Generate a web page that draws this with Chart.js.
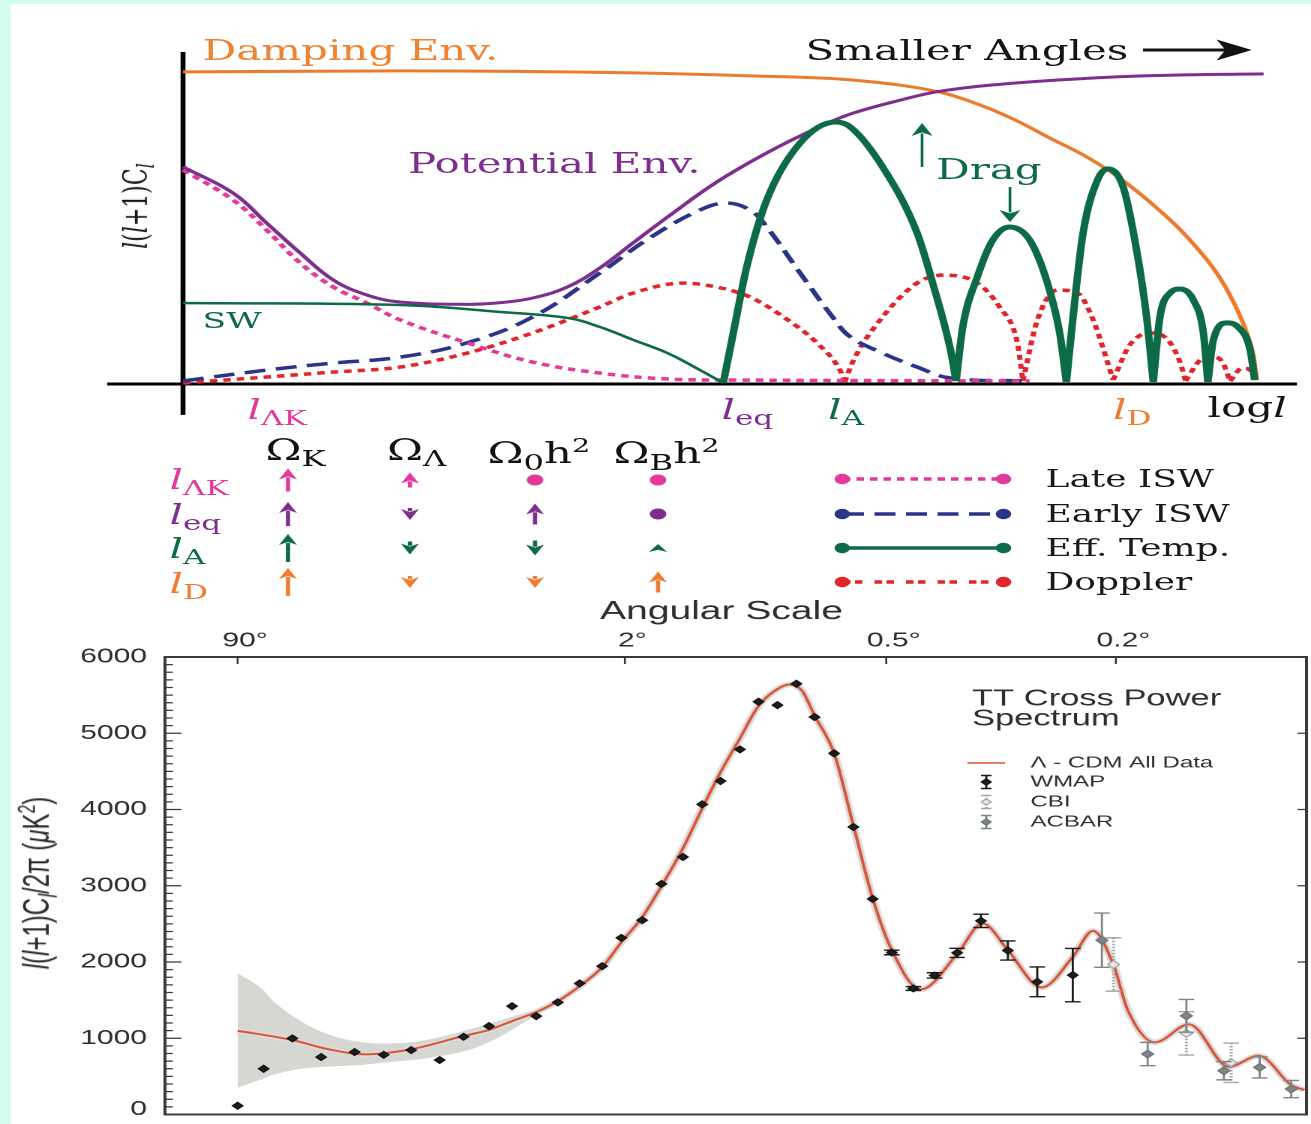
<!DOCTYPE html>
<html>
<head>
<meta charset="utf-8">
<title>CMB anisotropy: components and TT power spectrum</title>
<script src="https://cdn.jsdelivr.net/npm/chart.js@4.4.1/dist/chart.umd.min.js"></script>
<style>
  html, body { margin: 0; padding: 0; background: #d3fcf1; overflow: hidden; }
  body { width: 1311px; height: 1124px; position: relative; }
  /* the whole figure is laid out narrow and stretched sideways */
  #fig { position: absolute; left: 0; top: 0; width: 874px; height: 1124px; transform: scaleX(1.5); transform-origin: 0 0; }
  #paper { position: absolute; left: 6.67px; top: 4px; right: 0; bottom: 0; background: #fff; }
  canvas { position: absolute; left: 0; }
  .t { position: absolute; white-space: nowrap; line-height: 1; font-family: "DejaVu Serif", serif; }
  .s { font-family: "Liberation Sans", Arial, sans-serif; }
  .sb { font-size: .74em; vertical-align: -.3em; }
  .sp { font-size: .66em; vertical-align: .6em; }
  .rot { transform: translate(-50%, -50%) rotate(-90deg); }
</style>
</head>
<body>
<div id="fig">
  <div id="paper"></div>
  <canvas id="schema" width="874" height="600" style="top:0"></canvas>
  <canvas id="spectrum" width="876" height="534" style="top:590px"></canvas>

  <!-- schematic labels -->
  <div class="t" style="left:135px;top:37px;font-size:28px;color:#ee8433">Damping Env.</div>
  <div class="t" style="left:537px;top:37px;font-size:28px;color:#141414">Smaller Angles</div>
  <div class="t" style="left:272px;top:150px;font-size:28px;color:#7e2f8e">Potential Env.</div>
  <div class="t" style="left:624px;top:156px;font-size:28px;color:#0c6b46">Drag</div>
  <div class="t" style="left:135px;top:309px;font-size:23px;color:#0c6b46">SW</div>
  <div class="t" style="left:165px;top:396px;font-size:28px;color:#e2399a"><i>l</i><span class="sb">ΛK</span></div>
  <div class="t" style="left:481px;top:396px;font-size:28px;color:#7e2f8e"><i>l</i><span class="sb">eq</span></div>
  <div class="t" style="left:552px;top:396px;font-size:28px;color:#0c6b46"><i>l</i><span class="sb">A</span></div>
  <div class="t" style="left:742px;top:396px;font-size:28px;color:#ee7d2f"><i>l</i><span class="sb">D</span></div>
  <div class="t" style="left:805px;top:394px;font-size:28px;color:#141414">log<i>l</i></div>
  <div class="t rot" style="left:93px;top:206px;font-size:22px;color:#141414"><i>l</i>(<i>l</i>+1)C<span class="sb"><i>l</i></span></div>

  <!-- parameter table -->
  <div class="t" style="left:177px;top:436px;font-size:29px;color:#111">Ω<span class="sb">K</span></div>
  <div class="t" style="left:258px;top:436px;font-size:29px;color:#111">Ω<span class="sb">Λ</span></div>
  <div class="t" style="left:325px;top:436px;font-size:29px;color:#111">Ω<span class="sb">0</span>h<span class="sp">2</span></div>
  <div class="t" style="left:409px;top:436px;font-size:29px;color:#111">Ω<span class="sb">B</span>h<span class="sp">2</span></div>
  <div class="t" style="left:113px;top:466px;font-size:28px;color:#e2399a"><i>l</i><span class="sb">ΛK</span></div>
  <div class="t" style="left:113px;top:501px;font-size:28px;color:#7e2f8e"><i>l</i><span class="sb">eq</span></div>
  <div class="t" style="left:113px;top:535px;font-size:28px;color:#0c6b46"><i>l</i><span class="sb">A</span></div>
  <div class="t" style="left:113px;top:570px;font-size:28px;color:#ee7d2f"><i>l</i><span class="sb">D</span></div>

  <!-- component legend -->
  <div class="t" style="left:697px;top:467px;font-size:24px;color:#1a1a1a">Late ISW</div>
  <div class="t" style="left:697px;top:502px;font-size:24px;color:#1a1a1a">Early ISW</div>
  <div class="t" style="left:697px;top:536px;font-size:24px;color:#1a1a1a">Eff. Temp.</div>
  <div class="t" style="left:697px;top:570px;font-size:24px;color:#1a1a1a">Doppler</div>

  <!-- spectrum y title -->
  <div class="t s rot" style="left:26px;top:883px;font-size:24px;color:#2a2a2a"><i>l</i>(<i>l</i>+1)C<span class="sb"><i>l</i></span>/2π (<i>μ</i>K<span class="sp">2</span>)</div>
</div>

<script>
// ---------- schematic curves (x: log l, arbitrary units; y: amplitude) ----------
const dampX = [0, 19.5, 40.4, 50.9, 59.9, 68.2, 71.8, 74.9, 77.8, 80.8, 83.8, 86.8, 89.8, 92.8, 94.3, 95.5, 96.1, 96.4];
const dampY = [94.0, 94.3, 93.7, 92.8, 91.6, 87.7, 83.7, 79.2, 74.1, 69.0, 62.7, 54.8, 45.5, 33.4, 24.7, 15.4, 8.4, 1.2];

const potX = [0, 4.5, 7.5, 10.5, 13.5, 16.5, 19.5, 25.5, 28.5, 31.4, 34.5, 37.4, 40.4, 43.5, 47.9, 52.4, 56.9, 59.9, 64.4, 68.2, 74.9, 83.8, 89.8, 97.0];
const potY = [65.4, 57.5, 48.5, 39.5, 31.3, 26.8, 24.7, 24.0, 24.5, 25.9, 29.2, 34.9, 42.5, 50.3, 60.8, 69.6, 77.1, 81.3, 85.5, 88.3, 90.7, 92.5, 93.1, 93.4];

const lateX = [0, 4.5, 7.5, 10.5, 13.5, 16.5, 19.5, 25.5, 31.4, 37.4, 43.5, 49.4, 76.0];
const lateY = [64.5, 55.4, 46.4, 36.5, 29.2, 24.4, 19.3, 12.4, 6.6, 3.3, 1.5, 1.2, 0.9];

const earlyX = [0, 7.5, 13.5, 19.5, 25.5, 31.4, 37.4, 41.9, 46.4, 48.8, 50.9, 52.4, 55.4, 58.4, 59.9, 62.8, 65.9, 68.9, 76.0];
const earlyY = [0.9, 4.2, 6.3, 8.1, 12.4, 20.2, 33.4, 44.0, 52.4, 54.5, 52.4, 47.3, 33.4, 19.8, 14.2, 9.3, 5.1, 1.8, 0.9];

// null in Y starts a new arch
const dopX = [0, 7.5, 13.5, 19.5, 25.5, 31.4, 37.4, 40.4, 44.9, 47.9, 50.9, 53.9, 56.9, 59.0, 59.4,
              59.4, 59.4, 60.2, 62.8, 65.9, 68.2, 71.3, 73.3, 74.9, 75.4,
              75.4, 75.4, 76.7, 78.5, 80.3, 81.7, 83.5,
              83.5, 83.5, 85.0, 86.8, 88.4, 89.5, 90.0,
              90.0, 90.0, 91.3, 92.2, 93.3, 94.0,
              94.0, 94.0, 95.1, 95.8, 96.4];
const dopY = [0.3, 2.1, 3.6, 5.1, 9.3, 15.4, 23.2, 27.4, 30.4, 29.2, 26.2, 20.2, 12.4, 4.0, 0.6,
              null, 0.6, 7.2, 20.2, 30.4, 32.8, 30.4, 23.2, 12.4, 0.9,
              null, 0.9, 19.3, 28.3, 27.4, 19.3, 1.2,
              null, 1.2, 11.8, 15.4, 13.3, 6.6, 0.9,
              null, 0.9, 7.2, 8.4, 6.6, 0.9,
              null, 0.9, 4.8, 4.2, 0.9];

const swX = [0, 19.5, 28.5, 34.5, 37.4, 40.4, 43.5, 46.4, 48.5];
const swY = [24.4, 23.8, 21.7, 19.9, 17.2, 13.3, 9.3, 4.2, 0.3];

const effTempX = [48.5, 49.4, 50.6, 52.4, 55.4, 58.6, 59.9, 62.8, 65.9, 67.3, 68.9, 69.4,
                  69.4, 69.4, 70.0, 71.3, 72.7, 74.2, 76.0, 77.6, 78.7, 79.3,
                  79.3, 79.3, 79.9, 80.8, 82.1, 83.0, 84.4, 85.6, 86.5, 87.1,
                  87.1, 87.1, 87.7, 88.6, 89.5, 90.7, 91.6, 92.0,
                  92.0, 92.0, 92.5, 93.7, 94.7, 95.8, 96.2];
const effTempY = [0.3, 15.4, 35.2, 55.4, 72.6, 78.9, 77.4, 65.4, 45.5, 30.4, 10.2, 0.9,
                  null, 0.9, 17.2, 32.2, 43.4, 47.3, 43.4, 30.4, 15.4, 0.6,
                  null, 0.6, 20.2, 45.5, 61.5, 64.8, 59.3, 40.4, 20.2, 0.6,
                  null, 0.6, 20.2, 27.4, 28.6, 25.3, 15.4, 0.6,
                  null, 0.6, 13.3, 18.4, 17.2, 10.2, 1.2];

// parameter dependence: + raises the scale, - lowers it, 0 no effect
const omegaK      = [2.3, 2.4, 2.8, 2.8];
const omegaLambda = [1.5, -1.2, -1.3, -1.2];
const omegaMatter = [0, 2.1, -1.5, -1.2];
const omegaBaryon = [0, 0, 0.8, 2.1];

// ---------- TT spectrum (multipole l, power in uK^2) ----------
const modelL = [2, 4.5, 7.16, 10.82, 17.1, 27.5, 34.1, 40.9, 49.1, 57.4, 66.8, 77.7, 88.0, 100.3, 112.7, 128.0, 142.9,
                158.3, 175.9, 194.1, 214.0, 227.7, 242.0, 257.5, 283.0, 309.8, 338.6, 369.1,
                418.9, 488.8, 542.6, 600.2, 684.4, 769.4, 828.6, 892.5, 938.7, 1032.2, 1158.9, 1321.1, 1453.4, 1608.8, 1675.3];
const modelPower = [1098, 976, 854, 789, 854, 1028, 1110, 1225, 1343, 1487, 1683, 1932, 2260, 2588, 2994, 3492, 4016,
                    4490, 4935, 5358, 5580, 5640, 5560, 5234, 4736, 3793, 2836, 2155,
                    1640, 2103, 2505, 2155, 1666, 2067, 2408, 1959, 1369, 946, 1182, 626, 770, 386, 321];

const bandL     = [2, 2.82, 3.59, 4.93, 6.88, 10.07, 14.25, 19.63, 31.22, 49.1];
const bandUpper = [1851, 1675, 1457, 1238, 1064, 954, 933, 976, 1150, 1380];
const bandLower = [351, 452, 530, 595, 626, 648, 692, 736, 888, 1300];

const wmapL = [2, 3, 4.5, 6.5, 9.6, 13.1, 17.2, 22.4, 27.6, 34.1, 40.9, 49.1, 57.4, 66.8, 77.7, 88.0, 100.3, 112.7, 128.0,
               142.9, 158.3, 175.9, 194.1, 214.0, 235.5, 257.5, 283.0, 309.8, 338.6, 369.1, 405.9, 444.6, 488.8, 539.1,
               600.2, 673.0, 769.4];
const wmapPower = [115, 600, 998, 753, 819, 783, 845, 714, 1019, 1159, 1421, 1290, 1470, 1719, 1945, 2316, 2548, 3024, 3377,
                   4068, 4373, 4788, 5413, 5369, 5649, 5212, 4736, 3770, 2827, 2125, 1653, 1824, 2120, 2539,
                   2151, 1740, 1828];
const wmapError = [0, 0, 0, 0, 0, 0, 0, 0, 0, 0, 0, 0, 0, 0, 0, 0, 0, 0, 0,
                   0, 0, 0, 0, 0, 0, 0, 0, 0, 0, 30, 25, 35, 60, 88,
                   125, 195, 350];

const cbiL = [892.5, 1148.5, 1330.9];
const cbiPower = [1968, 1064, 679];
const cbiError = [350, 284, 258];

const acbarL = [855.9, 1006.3, 1148.5, 1299.9, 1458.0, 1608.8];
const acbarPower = [2286, 793, 1294, 574, 618, 334];
const acbarError = [356, 153, 215, 120, 138, 113];

const powerTicks = [0, 1000, 2000, 3000, 4000, 5000, 6000];
const angleTickL = [2, 90, 360, 900];
const angleTickLabels = ['90°', '2°', '0.5°', '0.2°'];

const SANS = '"Liberation Sans", Arial, sans-serif';

function pts(xs, ys) {
  return xs.map((x, i) => ({ x: x, y: ys[i] }));
}

// multipole axis stretched like l^(1/4)
const P = 0.25;
class PowerScale extends Chart.LinearScale {
  configure() {
    super.configure();
    this._powStart = Math.pow(this.min, P);
    this._powRange = Math.pow(this.max, P) - this._powStart;
  }
  getPixelForValue(value) {
    if (value === null || value === undefined || isNaN(value)) return NaN;
    return this.getPixelForDecimal((Math.pow(value, P) - this._powStart) / this._powRange);
  }
  getValueForPixel(pixel) {
    return Math.pow(this.getDecimalForPixel(pixel) * this._powRange + this._powStart, 1 / P);
  }
}
PowerScale.id = 'power';
PowerScale.defaults = Chart.LinearScale.defaults;
Chart.register(PowerScale);

function vArrow(ctx, x, tail, tip, color, lw, headLen, headHalf) {
  const dir = tip < tail ? -1 : 1;
  ctx.save();
  ctx.strokeStyle = color;
  ctx.fillStyle = color;
  ctx.lineWidth = lw;
  if (Math.abs(tail - tip) > headLen) {
    ctx.beginPath();
    ctx.moveTo(x, tail);
    ctx.lineTo(x, tip - dir * headLen * 0.8);
    ctx.stroke();
  }
  ctx.beginPath();
  ctx.moveTo(x, tip);
  ctx.lineTo(x - headHalf, tip - dir * headLen);
  ctx.lineTo(x, tip - dir * headLen * 0.72);
  ctx.lineTo(x + headHalf, tip - dir * headLen);
  ctx.closePath();
  ctx.fill();
  ctx.restore();
}

const rowColors = ['#e2399a', '#7e2f8e', '#0c6b46', '#ee7d2f'];
const rowY = [480, 514, 548, 582];
const tableCols = [omegaK, omegaLambda, omegaMatter, omegaBaryon];
const colX = [192, 273.3, 356.7, 438.7];

const legendRows = [
  { color: '#e2399a', dash: [5, 4], width: 3.5, y: 479 },
  { color: '#2b3587', dash: [14, 7], width: 3.5, y: 514 },
  { color: '#0c6b46', dash: [], width: 3.5, y: 548 },
  { color: '#e0262b', dash: [5, 3, 5, 8], width: 3.5, y: 582 }
];

const schemaDecor = {
  id: 'schemaDecor',
  beforeDatasetsDraw(chart) {
    const { ctx, scales: { x, y } } = chart;
    ctx.save();
    ctx.strokeStyle = '#000';
    ctx.lineWidth = 3.3;
    ctx.beginPath();
    ctx.moveTo(x.getPixelForValue(0), y.getPixelForValue(100));
    ctx.lineTo(x.getPixelForValue(0), y.getPixelForValue(-9.3));
    ctx.stroke();
    ctx.lineWidth = 3;
    ctx.beginPath();
    ctx.moveTo(x.getPixelForValue(-6.8), y.getPixelForValue(0));
    ctx.lineTo(x.getPixelForValue(100), y.getPixelForValue(0));
    ctx.stroke();
    ctx.restore();
  },
  afterDatasetsDraw(chart) {
    const ctx = chart.ctx;
    ctx.save();
    // "Smaller Angles" arrow
    ctx.strokeStyle = '#111';
    ctx.fillStyle = '#111';
    ctx.lineWidth = 3;
    ctx.beginPath();
    ctx.moveTo(762, 50);
    ctx.lineTo(820, 50);
    ctx.stroke();
    ctx.beginPath();
    ctx.moveTo(834.5, 50);
    ctx.lineTo(811, 39.5);
    ctx.lineTo(817, 50);
    ctx.lineTo(811, 60.5);
    ctx.closePath();
    ctx.fill();
    ctx.restore();

    // drag arrows
    vArrow(ctx, 614.7, 167, 123, '#0c6b46', 1.8, 13, 7);
    vArrow(ctx, 673.3, 187, 222, '#0c6b46', 1.8, 12, 7);

    // parameter table glyphs
    tableCols.forEach((col, c) => {
      col.forEach((v, r) => {
        const cx = colX[c], cy = rowY[r], color = rowColors[r];
        if (v === 0) {
          ctx.save();
          ctx.fillStyle = color;
          ctx.beginPath();
          ctx.arc(cx, cy, 5.5, 0, Math.PI * 2);
          ctx.fill();
          ctx.restore();
        } else {
          const len = Math.abs(v) * 10;
          const tail = v > 0 ? cy + len / 2 : cy - len / 2;
          const tip = v > 0 ? cy - len / 2 : cy + len / 2;
          vArrow(ctx, cx, tail, tip, color, 2.8, Math.min(11, len), 6);
        }
      });
    });

    // component legend samples
    legendRows.forEach(row => {
      ctx.save();
      ctx.strokeStyle = row.color;
      ctx.fillStyle = row.color;
      ctx.lineWidth = row.width;
      ctx.setLineDash(row.dash);
      ctx.beginPath();
      ctx.moveTo(562, row.y);
      ctx.lineTo(669, row.y);
      ctx.stroke();
      ctx.setLineDash([]);
      [561.5, 669].forEach(px => {
        ctx.beginPath();
        ctx.arc(px, row.y, 5.2, 0, Math.PI * 2);
        ctx.fill();
      });
      ctx.restore();
    });
  }
};

function curve(label, xs, ys, color, width, dash, order, smooth) {
  const ds = {
    label: label,
    data: pts(xs, ys),
    borderColor: color,
    borderWidth: width,
    borderDash: dash,
    borderCapStyle: 'butt',
    fill: false,
    pointRadius: 0,
    spanGaps: false,
    order: order
  };
  if (smooth) {
    ds.tension = 0.4;
  } else {
    ds.cubicInterpolationMode = 'monotone';
  }
  return ds;
}

new Chart(document.getElementById('schema'), {
  type: 'line',
  data: {
    datasets: [
      curve('Eff. Temp.', effTempX, effTempY, '#0c6b46', 5, [], 1, false),
      curve('SW', swX, swY, '#0c6b46', 2.5, [], 1, true),
      curve('Potential Env.', potX, potY, '#7e2f8e', 3, [], 2, true),
      curve('Damping Env.', dampX, dampY, '#ec7b2d', 3, [], 3, false),
      curve('Late ISW', lateX, lateY, '#e23b98', 3.5, [5, 4], 4, true),
      curve('Early ISW', earlyX, earlyY, '#2b3587', 3.5, [14, 7], 5, true),
      curve('Doppler', dopX, dopY, '#e0262b', 3.5, [5, 4], 6, false)
    ]
  },
  options: {
    responsive: false,
    animation: false,
    events: [],
    devicePixelRatio: 2,
    layout: { padding: 0 },
    plugins: { legend: { display: false }, tooltip: { enabled: false } },
    scales: {
      x: { type: 'linear', display: false, min: -16.43, max: 101.26 },
      y: { type: 'linear', display: false, min: -65.06, max: 115.66 }
    }
  },
  plugins: [schemaDecor]
});

// ---------- spectrum ----------
function drawErrorBars(ctx, xs, ys, px, v, e, color, dash, cap) {
  const x = xs.getPixelForValue(px);
  const top = ys.getPixelForValue(v + e), bot = ys.getPixelForValue(v - e);
  ctx.save();
  ctx.strokeStyle = color;
  ctx.lineWidth = dash.length ? 2 : 1.4;
  ctx.setLineDash(dash);
  ctx.beginPath();
  ctx.moveTo(x, top);
  ctx.lineTo(x, bot);
  ctx.stroke();
  ctx.setLineDash([]);
  ctx.lineWidth = 1.4;
  ctx.beginPath();
  ctx.moveTo(x - cap, top); ctx.lineTo(x + cap, top);
  ctx.moveTo(x - cap, bot); ctx.lineTo(x + cap, bot);
  ctx.stroke();
  ctx.restore();
}

function diamond(ctx, x, y, r, fill, stroke) {
  ctx.save();
  ctx.beginPath();
  ctx.moveTo(x - r, y); ctx.lineTo(x, y - r); ctx.lineTo(x + r, y); ctx.lineTo(x, y + r);
  ctx.closePath();
  ctx.fillStyle = fill;
  ctx.fill();
  ctx.strokeStyle = stroke;
  ctx.lineWidth = 1;
  ctx.stroke();
  ctx.restore();
}

const spectrumDecor = {
  id: 'spectrumDecor',
  beforeDatasetDraw(chart, args) {
    const ds = chart.data.datasets[args.index];
    if (!ds.errors) return;
    const { ctx, scales: { x, y } } = chart;
    ds.data.forEach((p, i) => {
      if (ds.errors[i]) drawErrorBars(ctx, x, y, p.x, p.y, ds.errors[i], ds.errorColor, ds.errorDash, 5.2);
    });
  },
  afterDraw(chart) {
    const { ctx, chartArea: a, scales: { x, y } } = chart;
    ctx.save();
    ctx.strokeStyle = '#3a3a3a';
    ctx.lineWidth = 2;
    ctx.strokeRect(a.left, a.top, a.right - a.left, a.bottom - a.top);

    // power ticks, minor every 100
    ctx.lineWidth = 1.3;
    ctx.beginPath();
    for (let v = 0; v <= 6000; v += 100) {
      const py = y.getPixelForValue(v);
      const len = v % 1000 === 0 ? 11 : 5.3;
      ctx.moveTo(a.left, py);
      ctx.lineTo(a.left + len, py);
    }
    powerTicks.forEach(v => {
      const py = y.getPixelForValue(v);
      ctx.moveTo(a.right, py);
      ctx.lineTo(a.right - 6, py);
    });
    angleTickL.forEach(l => {
      const px = x.getPixelForValue(l);
      ctx.moveTo(px, a.top);
      ctx.lineTo(px, a.top + 7);
    });
    ctx.stroke();

    ctx.fillStyle = '#2e2e2e';
    ctx.font = '20px ' + SANS;
    ctx.textAlign = 'right';
    ctx.textBaseline = 'middle';
    powerTicks.forEach(v => {
      ctx.fillText(String(v), 98, y.getPixelForValue(v) - (v === 0 ? 5 : 0));
    });

    ctx.textAlign = 'left';
    angleTickL.forEach((l, i) => {
      const label = angleTickLabels[i];
      const digits = ctx.measureText(label.replace('°', '')).width;
      ctx.fillText(label, x.getPixelForValue(l) - digits / 2 + 1, 51);
    });

    ctx.textAlign = 'center';
    ctx.font = '26px ' + SANS;
    ctx.fillText('Angular Scale', 481, 22);

    // legend
    ctx.textAlign = 'left';
    ctx.font = '23px ' + SANS;
    ctx.fillStyle = '#2e2e2e';
    ctx.fillText('TT Cross Power', 648, 109);
    ctx.fillText('Spectrum', 648, 129);

    ctx.strokeStyle = '#d8553a';
    ctx.lineWidth = 1.6;
    ctx.beginPath();
    ctx.moveTo(645, 173);
    ctx.lineTo(670, 173);
    ctx.stroke();

    const lx = 657.5;
    const px = { getPixelForValue: () => lx };
    const py = { getPixelForValue: v => v };
    drawErrorBars(ctx, px, py, 0, 192, 6.5, '#1a1a1a', [], 3.5);
    diamond(ctx, lx, 192, 3.3, '#1e1e1e', '#111');
    drawErrorBars(ctx, px, py, 0, 212, 6.5, '#a3a7a8', [1.5, 1.5], 3.5);
    diamond(ctx, lx, 212, 3.3, '#e4e5e5', '#a0a4a5');
    drawErrorBars(ctx, px, py, 0, 232, 6.5, '#7d8587', [], 3.5);
    diamond(ctx, lx, 232, 3.3, '#7d8587', '#6f7678');

    ctx.font = '16px ' + SANS;
    ctx.fillStyle = '#2e2e2e';
    ctx.fillText('Λ - CDM All Data', 687, 173);
    ctx.fillText('WMAP', 687, 192);
    ctx.fillText('CBI', 687, 212);
    ctx.fillText('ACBAR', 687, 232);
    ctx.restore();
  }
};

new Chart(document.getElementById('spectrum'), {
  type: 'line',
  data: {
    datasets: [
      {
        label: 'cosmic variance upper',
        data: pts(bandL, bandUpper),
        fill: '+1',
        backgroundColor: '#d6d7d3',
        borderColor: 'rgba(0,0,0,0)',
        borderWidth: 0,
        pointRadius: 0,
        tension: 0.4,
        order: 10
      },
      {
        label: 'cosmic variance lower',
        data: pts(bandL, bandLower),
        fill: false,
        borderColor: 'rgba(0,0,0,0)',
        borderWidth: 0,
        pointRadius: 0,
        tension: 0.4,
        order: 10
      },
      {
        label: 'model halo',
        data: pts(modelL, modelPower),
        fill: false,
        borderColor: '#dcdcd8',
        borderWidth: 5.5,
        pointRadius: 0,
        cubicInterpolationMode: 'monotone',
        order: 9
      },
      {
        label: 'Λ - CDM All Data',
        data: pts(modelL, modelPower),
        fill: false,
        borderColor: '#d8553a',
        borderWidth: 2,
        pointRadius: 0,
        cubicInterpolationMode: 'monotone',
        order: 8
      },
      {
        label: 'WMAP',
        data: pts(wmapL, wmapPower),
        showLine: false,
        pointStyle: 'rectRot',
        pointRadius: 3.5,
        pointBorderWidth: 1,
        pointBackgroundColor: '#1e1e1e',
        pointBorderColor: '#111',
        errors: wmapError,
        errorColor: '#1a1a1a',
        errorDash: [],
        order: 3
      },
      {
        label: 'CBI',
        data: pts(cbiL, cbiPower),
        showLine: false,
        pointStyle: 'rectRot',
        pointRadius: 4,
        pointBorderWidth: 1,
        pointBackgroundColor: '#e4e5e5',
        pointBorderColor: '#9ea2a3',
        errors: cbiError,
        errorColor: '#a3a7a8',
        errorDash: [1.5, 1.5],
        order: 2
      },
      {
        label: 'ACBAR',
        data: pts(acbarL, acbarPower),
        showLine: false,
        pointStyle: 'rectRot',
        pointRadius: 4,
        pointBorderWidth: 1,
        pointBackgroundColor: '#7d8587',
        pointBorderColor: '#6f7678',
        errors: acbarError,
        errorColor: '#7d8587',
        errorDash: [],
        order: 1
      }
    ]
  },
  options: {
    responsive: false,
    animation: false,
    events: [],
    devicePixelRatio: 2,
    layout: { padding: { left: 110, top: 67, right: 0.7, bottom: 9.5 } },
    plugins: { legend: { display: false }, tooltip: { enabled: false } },
    scales: {
      x: { type: 'power', display: false, min: 0.485, max: 1686 },
      y: { type: 'linear', display: false, min: 0, max: 6000 }
    }
  },
  plugins: [spectrumDecor]
});
</script>
</body>
</html>
